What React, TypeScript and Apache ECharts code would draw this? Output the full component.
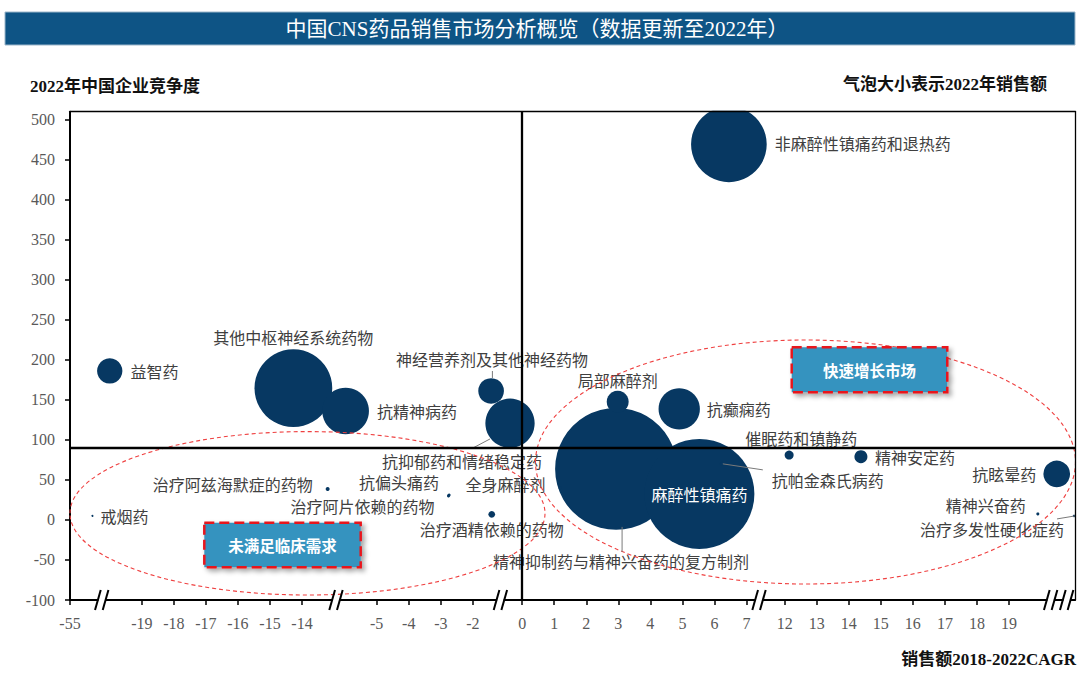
import React, { useEffect, useRef } from 'react';
import * as echarts from 'echarts';

// ---------- texts ----------
const TITLE = '中国CNS药品销售市场分析概览（数据更新至2022年）';
const Y_NAME = '2022年中国企业竞争度';
const SIZE_NOTE = '气泡大小表示2022年销售额';
const X_NAME = '销售额2018-2022CAGR';
const ZONE_FAST = '快速增长市场';
const ZONE_UNMET = '未满足临床需求';

// ---------- data ----------
const NAMES = [
  '精神抑制药与精神兴奋药的复方制剂', '麻醉性镇痛药', '其他中枢神经系统药物', '非麻醉性镇痛药和退热药',
  '抗抑郁药和情绪稳定药', '抗精神病药', '抗癫痫药', '抗眩晕药', '神经营养剂及其他神经药物', '益智药',
  '局部麻醉剂', '精神安定药', '催眠药和镇静药', '治疗酒精依赖的药物', '治疗阿兹海默症的药物',
  '抗帕金森氏病药', '抗偏头痛药', '治疗阿片依赖的药物', '精神兴奋药', '全身麻醉剂', '治疗多发性硬化症药', '戒烟药',
];
// 2018-2022 CAGR (%)
const CAGR = [2.93, 5.53, -14.27, 6.45, -0.38, -5.97, 4.9, 20.49, -1.43, -20.0, 2.98, 14.38, 12.14, -1.41, -13.2, 6.23, -2.74, -2.76, 19.9, 1.18, 21.03, -54.3];
// 2022 competition degree
const COMPETITION = [63.7, 32.5, 164.5, 469, 120.7, 136, 138.6, 57.4, 161, 186, 147.7, 79, 81, 7, 38.7, 70, 31, 30, 7.5, 40, 5, 5];
// 2022 sales (bubble size)
const SALES = [413, 336, 168, 159, 67.5, 60.6, 47.4, 19.8, 18.3, 17.8, 13.4, 4.7, 2.25, 1.25, 0.44, 0.44, 0.25, 0.25, 0.25, 0.25, 0.17, 0.11];

const X_TICKS = [-55, -19, -18, -17, -16, -15, -14, -5, -4, -3, -2, 0, 1, 2, 3, 4, 5, 6, 7, 12, 13, 14, 15, 16, 17, 18, 19];
const Y_TICKS = [-100, -50, 0, 50, 100, 150, 200, 250, 300, 350, 400, 450, 500];
const Y_MIN = -100;
const Y_MAX = 510;
const CROSS_X = 0;
const CROSS_Y = 90;

// ---------- broken x axis configuration ----------
const X_SEGMENTS = [
  { from: -56, to: -50, offset: 55 },
  { from: -21, to: -12.5, offset: 21.24 },
  { from: -6.5, to: -1.2, offset: 14.57 },
  { from: -1.2, to: 7.6, offset: 14.11 },
  { from: 11, to: 21.5, offset: 10.3 },
];
const X_AXIS_MAX = 31.36;
const BREAKS_U = [0.99, 8.3, 13.43, 21.5, 30.6, 31.1];

function realToU(r: number): number {
  for (const s of X_SEGMENTS) {
    if (r >= s.from && r <= s.to) return r + s.offset;
  }
  let best = X_SEGMENTS[0];
  let bd = Infinity;
  for (const s of X_SEGMENTS) {
    const d = Math.min(Math.abs(r - s.from), Math.abs(r - s.to));
    if (d < bd) { bd = d; best = s; }
  }
  return r + best.offset;
}
const X_TICK_U = X_TICKS.map(realToU);

// ---------- label layout (style, not data) ----------
type Lay = { pos: string; dist?: number; off?: number[]; color?: string; line?: number[] };
const LABEL_LAYOUT: Record<string, Lay> = {
  '精神抑制药与精神兴奋药的复方制剂': { pos: 'inside', off: [5, 92], line: [6, 58, 6, 83] },
  '麻醉性镇痛药': { pos: 'inside', off: [0, 0], color: '#ffffff' },
  '其他中枢神经系统药物': { pos: 'top', dist: 4 },
  '非麻醉性镇痛药和退热药': { pos: 'right', dist: 8, off: [0, -1] },
  '抗抑郁药和情绪稳定药': { pos: 'inside', off: [-48, 38], line: [-20, 15.7, -37, 24.7] },
  '抗精神病药': { pos: 'right', dist: 8 },
  '抗癫痫药': { pos: 'right', dist: 7 },
  '抗眩晕药': { pos: 'left', dist: 7 },
  '神经营养剂及其他神经药物': { pos: 'top', dist: 11, off: [1, 0], line: [1.3, -20, 1.3, -13] },
  '益智药': { pos: 'right', dist: 8 },
  '局部麻醉剂': { pos: 'top', dist: 3 },
  '精神安定药': { pos: 'right', dist: 7.5 },
  '催眠药和镇静药': { pos: 'top', dist: 5, off: [12, 0] },
  '治疗酒精依赖的药物': { pos: 'bottom', dist: 3 },
  '治疗阿兹海默症的药物': { pos: 'inside', off: [-95, -5] },
  '抗帕金森氏病药': { pos: 'inside', off: [106, 16], line: [1, 0, 41, 6] },
  '抗偏头痛药': { pos: 'inside', off: [-50, -13] },
  '治疗阿片依赖的药物': { pos: 'inside', off: [-86, 10] },
  '精神兴奋药': { pos: 'inside', off: [-52, -8.5] },
  '全身麻醉剂': { pos: 'inside', off: [-54.5, -4] },
  '治疗多发性硬化症药': { pos: 'inside', off: [-82, 13.5], line: [-17, 3, 1, 0] },
  '戒烟药': { pos: 'right', dist: 7 },
};

const CJK = "'Noto Sans CJK SC', sans-serif";
const SERIF_CJK = "'Liberation Serif', 'Noto Sans CJK SC', serif";
const NUM_FONT = "'Liberation Serif', serif";
const BUBBLE = '#073862';
const SIZE_K = 6;

export default function App() {
  const ref = useRef<HTMLDivElement>(null);

  useEffect(() => {
    if (!ref.current) return;
    const chart = echarts.init(ref.current, null, { renderer: 'svg' });

    const bubbleData = NAMES.map((name, i) => {
      const lay = LABEL_LAYOUT[name] || { pos: 'right' };
      return {
        name,
        value: [realToU(CAGR[i]), COMPETITION[i], SALES[i]],
        label: {
          show: true,
          position: lay.pos,
          distance: lay.dist ?? 5,
          offset: lay.off ?? [0, 0],
          color: lay.color ?? '#404040',
        },
      };
    });

    const leaderData = NAMES.map((name, i) => (LABEL_LAYOUT[name] && LABEL_LAYOUT[name].line ? [realToU(CAGR[i]), COMPETITION[i], i] : null)).filter(Boolean);

    const axisLabelBase = { color: '#595959', fontFamily: NUM_FONT, fontSize: 16 };

    const option: any = {
      animation: false,
      backgroundColor: '#ffffff',
      grid: { left: 70, right: 5, top: 111.5, bottom: 76, show: false, outerBoundsMode: 'none', containLabel: false },
      xAxis: [
        {
          type: 'value', min: 0, max: X_AXIS_MAX, position: 'bottom',
          axisLine: { show: true, onZero: false, lineStyle: { color: '#000', width: 2 } },
          axisTick: { show: true, inside: false, length: 5, customValues: X_TICK_U, lineStyle: { color: '#000', width: 1.5 } },
          axisLabel: {
            ...axisLabelBase, margin: 15, customValues: X_TICK_U,
            formatter: (v: number) => {
              const i = X_TICK_U.findIndex((u) => Math.abs(u - v) < 1e-6);
              return i >= 0 ? String(X_TICKS[i]) : '';
            },
          },
          splitLine: { show: false },
        },
        {
          type: 'value', min: 0, max: X_AXIS_MAX, position: 'top', z: 10,
          axisLine: { show: true, onZero: false, lineStyle: { color: '#000', width: 1.3 } },
          axisTick: { show: false }, axisLabel: { show: false }, splitLine: { show: false },
        },
      ],
      yAxis: [
        {
          type: 'value', min: Y_MIN, max: Y_MAX, position: 'left',
          axisLine: { show: true, onZero: false, lineStyle: { color: '#000', width: 2 } },
          axisTick: { show: true, inside: false, length: 5, customValues: Y_TICKS, lineStyle: { color: '#000', width: 1.5 } },
          axisLabel: { ...axisLabelBase, margin: 15, customValues: Y_TICKS },
          splitLine: { show: false },
        },
        {
          type: 'value', min: Y_MIN, max: Y_MAX, position: 'right', z: 10,
          axisLine: { show: true, onZero: false, lineStyle: { color: '#000', width: 1.3 } },
          axisTick: { show: false }, axisLabel: { show: false }, splitLine: { show: false },
        },
      ],
      series: [
        {
          type: 'scatter',
          xAxisIndex: 0, yAxisIndex: 0,
          z: 2,
          silent: true,
          symbol: 'circle',
          symbolSize: (val: number[]) => SIZE_K * Math.sqrt(val[2]),
          itemStyle: { color: BUBBLE, opacity: 1, borderWidth: 0 },
          label: {
            show: true, formatter: '{b}', fontSize: 16, fontFamily: CJK, color: '#404040',
            textBorderWidth: 0,
          },
          emphasis: { disabled: true },
          data: bubbleData,
          markLine: {
            silent: true,
            symbol: ['none', 'none'],
            label: { show: false },
            emphasis: { disabled: true },
            lineStyle: { color: '#000', width: 2.3, type: 'solid' },
            data: [{ xAxis: realToU(CROSS_X) }, { yAxis: CROSS_Y }],
          },
        },
        {
          type: 'custom',
          coordinateSystem: 'cartesian2d',
          xAxisIndex: 0, yAxisIndex: 0,
          clip: false, silent: true, z: 4,
          data: leaderData,
          renderItem: (params: any, api: any) => {
            const p = api.coord([api.value(0), api.value(1)]);
            const l = LABEL_LAYOUT[NAMES[api.value(2)]].line as number[];
            return {
              type: 'line',
              shape: { x1: p[0] + l[0], y1: p[1] + l[1], x2: p[0] + l[2], y2: p[1] + l[3] },
              style: { stroke: '#7a7a7a', lineWidth: 1 },
            };
          },
        },
        {
          type: 'custom',
          coordinateSystem: 'cartesian2d',
          xAxisIndex: 0, yAxisIndex: 0,
          clip: false, silent: true, z: 6,
          data: BREAKS_U.map((u) => [u, Y_MIN]),
          renderItem: (params: any, api: any) => {
            const p = api.coord([api.value(0), api.value(1)]);
            const c = p[0];
            const y = p[1];
            return {
              type: 'group',
              children: [
                { type: 'rect', shape: { x: c - 3.3, y: y - 2, width: 6.6, height: 4 }, style: { fill: '#ffffff' } },
                { type: 'line', shape: { x1: c - 6.7, y1: y + 10, x2: c - 1, y2: y - 10 }, style: { stroke: '#000', lineWidth: 2 } },
                { type: 'line', shape: { x1: c + 1, y1: y + 10, x2: c + 6.7, y2: y - 10 }, style: { stroke: '#000', lineWidth: 2 } },
              ],
            };
          },
        },
      ],
      graphic: [
        // title bar
        { type: 'rect', z: 20, shape: { x: 5, y: 12, width: 1070, height: 33 }, style: { fill: '#0E5485', stroke: '#9CB6CA', lineWidth: 1 } },
        { type: 'text', z: 21, x: 537, y: 28.5, style: { text: TITLE, fill: '#ffffff', fontSize: 21, fontFamily: SERIF_CJK, align: 'center', verticalAlign: 'middle' } },
        // mask above the plot top
        { type: 'rect', z: 8, shape: { x: 60, y: 96, width: 1020, height: 14.8 }, style: { fill: '#ffffff' } },
        // corner texts
        { type: 'text', z: 21, x: 30, y: 86, style: { text: Y_NAME, fill: '#111', fontSize: 17, fontWeight: 'bold', fontFamily: SERIF_CJK, align: 'left', verticalAlign: 'middle' } },
        { type: 'text', z: 21, x: 1047, y: 84, style: { text: SIZE_NOTE, fill: '#111', fontSize: 17, fontWeight: 'bold', fontFamily: SERIF_CJK, align: 'right', verticalAlign: 'middle' } },
        { type: 'text', z: 21, x: 1076, y: 659, style: { text: X_NAME, fill: '#111', fontSize: 17, fontWeight: 'bold', fontFamily: SERIF_CJK, align: 'right', verticalAlign: 'middle' } },
        // zone ellipses
        { type: 'ellipse', z: 3, silent: true, shape: { cx: 307.5, cy: 513.3, rx: 237.5, ry: 81.7 }, style: { fill: 'none', stroke: '#EF4040', lineWidth: 1.1, lineDash: [4, 3] } },
        { type: 'ellipse', z: 3, silent: true, shape: { cx: 805.5, cy: 462, rx: 270, ry: 122 }, style: { fill: 'none', stroke: '#EF4040', lineWidth: 1.1, lineDash: [4, 3] } },
        // zone boxes
        {
          type: 'rect', z: 12, shape: { x: 791.7, y: 347.3, width: 155.6, height: 45 },
          style: { fill: '#3693BF', stroke: '#E8141C', lineWidth: 2.5, lineDash: [10, 5], shadowBlur: 5, shadowOffsetX: 3, shadowOffsetY: 3, shadowColor: 'rgba(0,0,0,0.35)' },
        },
        { type: 'text', z: 13, x: 869.5, y: 370, style: { text: ZONE_FAST, fill: '#ffffff', fontSize: 15.5, fontWeight: 'bold', fontFamily: CJK, align: 'center', verticalAlign: 'middle' } },
        {
          type: 'rect', z: 12, shape: { x: 204.3, y: 522.7, width: 156.4, height: 44.6 },
          style: { fill: '#3693BF', stroke: '#E8141C', lineWidth: 2.5, lineDash: [10, 5], shadowBlur: 5, shadowOffsetX: 3, shadowOffsetY: 3, shadowColor: 'rgba(0,0,0,0.35)' },
        },
        { type: 'text', z: 13, x: 282.5, y: 545, style: { text: ZONE_UNMET, fill: '#ffffff', fontSize: 15.5, fontWeight: 'bold', fontFamily: CJK, align: 'center', verticalAlign: 'middle' } },
      ],
    };

    chart.setOption(option);
    return () => chart.dispose();
  }, []);

  return <div ref={ref} style={{ position: 'fixed', left: 0, top: 0, width: 1080, height: 676 }} />;
}
